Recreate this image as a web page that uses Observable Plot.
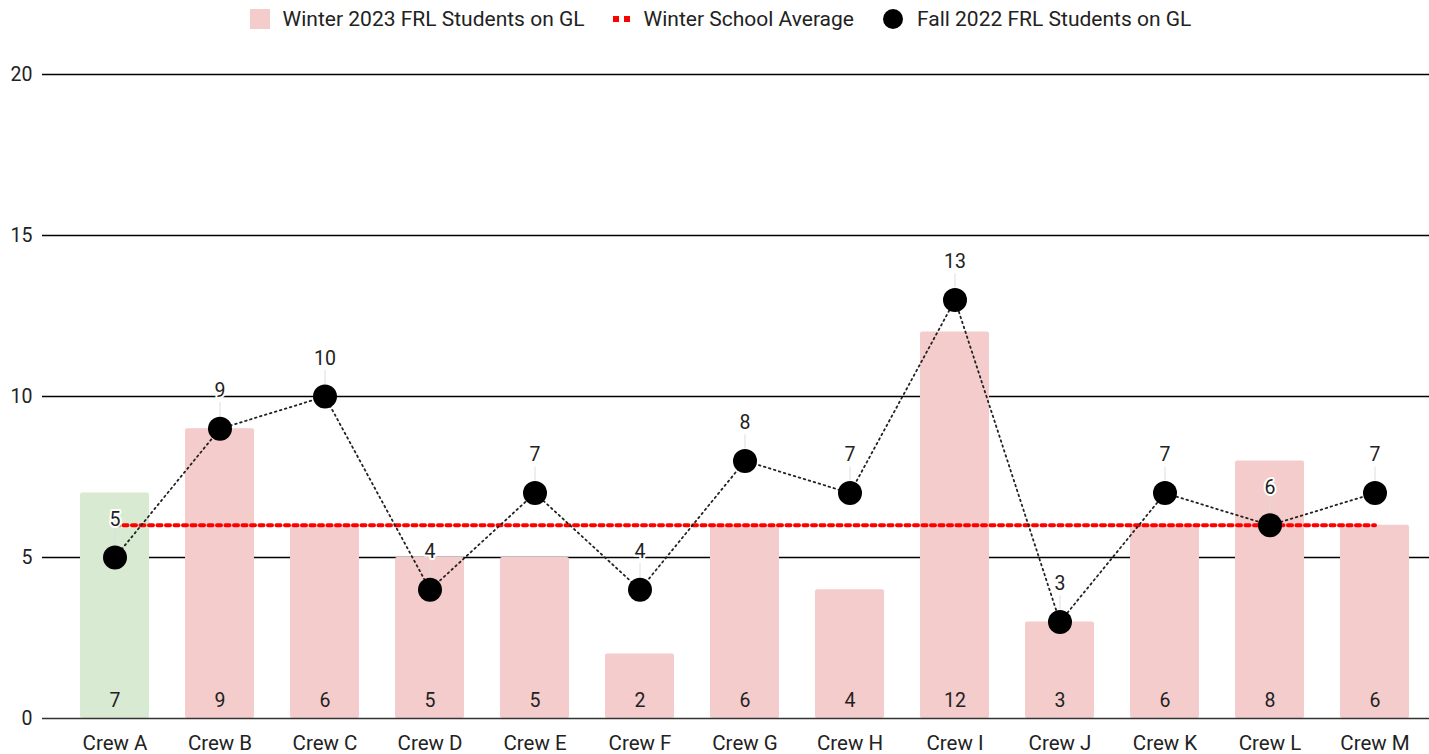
<!DOCTYPE html>
<html>
<head>
<meta charset="utf-8">
<script src="https://cdn.jsdelivr.net/npm/d3@7"></script>
<script src="https://cdn.jsdelivr.net/npm/@observablehq/plot@0.6"></script>
<style>
  html, body { margin: 0; padding: 0; background: #fff; overflow: hidden; }
  body { width: 1429px; height: 754px; position: relative; font-family: Roboto, "Liberation Sans", sans-serif; }
  #legend { position: absolute; top: 0; left: 0; width: 1429px; height: 38px; display: flex; justify-content: center; align-items: center; font-size: 21px; color: #222; z-index: 2; padding-left: 12px; box-sizing: border-box; }
  .item { display: flex; align-items: center; margin: 0 14px; }
  .sw { margin-right: 13px; }
  #chart { position: absolute; top: 0; left: 0; }
  #chart svg g[aria-label="x-axis tick label"] text, #chart svg g[aria-label="x-axis"] text { font-size: 20.5px; }
</style>
</head>
<body>
<div id="legend">
  <div class="item"><span class="sw" style="display:inline-block;width:20px;height:20px;background:#f4cccc"></span>Winter 2023 FRL Students on GL</div>
  <div class="item"><svg class="sw" width="18" height="8"><rect x="0" y="1" width="6" height="6" fill="#ff0000"/><rect x="11" y="1" width="6" height="6" fill="#ff0000"/></svg>Winter School Average</div>
  <div class="item"><svg class="sw" width="22" height="22"><circle cx="11" cy="11" r="10" fill="#000"/></svg>Fall 2022 FRL Students on GL</div>
</div>
<div id="chart"></div>
<script>
const crews = ["Crew A","Crew B","Crew C","Crew D","Crew E","Crew F","Crew G","Crew H","Crew I","Crew J","Crew K","Crew L","Crew M"];
const winter2023 = [7, 9, 6, 5, 5, 2, 6, 4, 12, 3, 6, 8, 6];
const fall2022 = [5, 9, 10, 4, 7, 4, 8, 7, 13, 3, 7, 6, 7];
const winterAverage = 6;
const yTicks = [0, 5, 10, 15, 20];
const highlightCrew = "Crew A";

const data = crews.map((c, i) => ({crew: c, winter: winter2023[i], fall: fall2022[i], avg: winterAverage}));

const chart = Plot.plot({
  width: 1429,
  height: 754,
  marginTop: 74,
  marginBottom: 36,
  marginLeft: 42,
  marginRight: 0,
  style: {fontFamily: "Roboto, sans-serif", fontSize: "19.5px", color: "#222", background: "#fff"},
  x: {domain: crews, range: [42, 1447], paddingInner: 0.34, paddingOuter: 0.345, align: 0.5, label: null, tickSize: 0, tickPadding: 17},
  y: {domain: [0, 20], ticks: yTicks, label: null, tickSize: 0, tickPadding: 10, tickFormat: d => d},
  marks: [
    Plot.ruleY(yTicks.filter(d => d !== 0), {stroke: "#000", strokeWidth: 1.4}),
    Plot.barY(data, {x: "crew", y: "winter", fill: d => d.crew === highlightCrew ? "#d9ead3" : "#f4cccc", rx: 2}),
    Plot.ruleY([0], {stroke: "#333", strokeWidth: 1.5}),
    Plot.text(data, {x: "crew", y: 0, text: d => String(d.winter), dy: -18, fontSize: 19.5, fill: "#222"}),
    Plot.lineY(data, {x: "crew", y: "avg", stroke: "#ff0000", strokeWidth: 4, strokeDasharray: "4,4.5"}),
    Plot.lineY(data, {x: "crew", y: "fall", stroke: "#222", strokeWidth: 1.8, strokeDasharray: "1.6,3.6"}),
    Plot.ruleX(data, {x: "crew", y1: "fall", y2: "fall", insetTop: -12, insetBottom: 26, stroke: "#ddd", strokeWidth: 1}),
    Plot.dot(data, {x: "crew", y: "fall", r: 12, fill: "#000"}),
    Plot.text(data, {x: "crew", y: "fall", text: d => String(d.fall), dy: -38, fontSize: 19.5, fill: "#222", stroke: "#fff", strokeWidth: 4, paintOrder: "stroke"})
  ]
});
document.getElementById("chart").appendChild(chart);
</script>
</body>
</html>
